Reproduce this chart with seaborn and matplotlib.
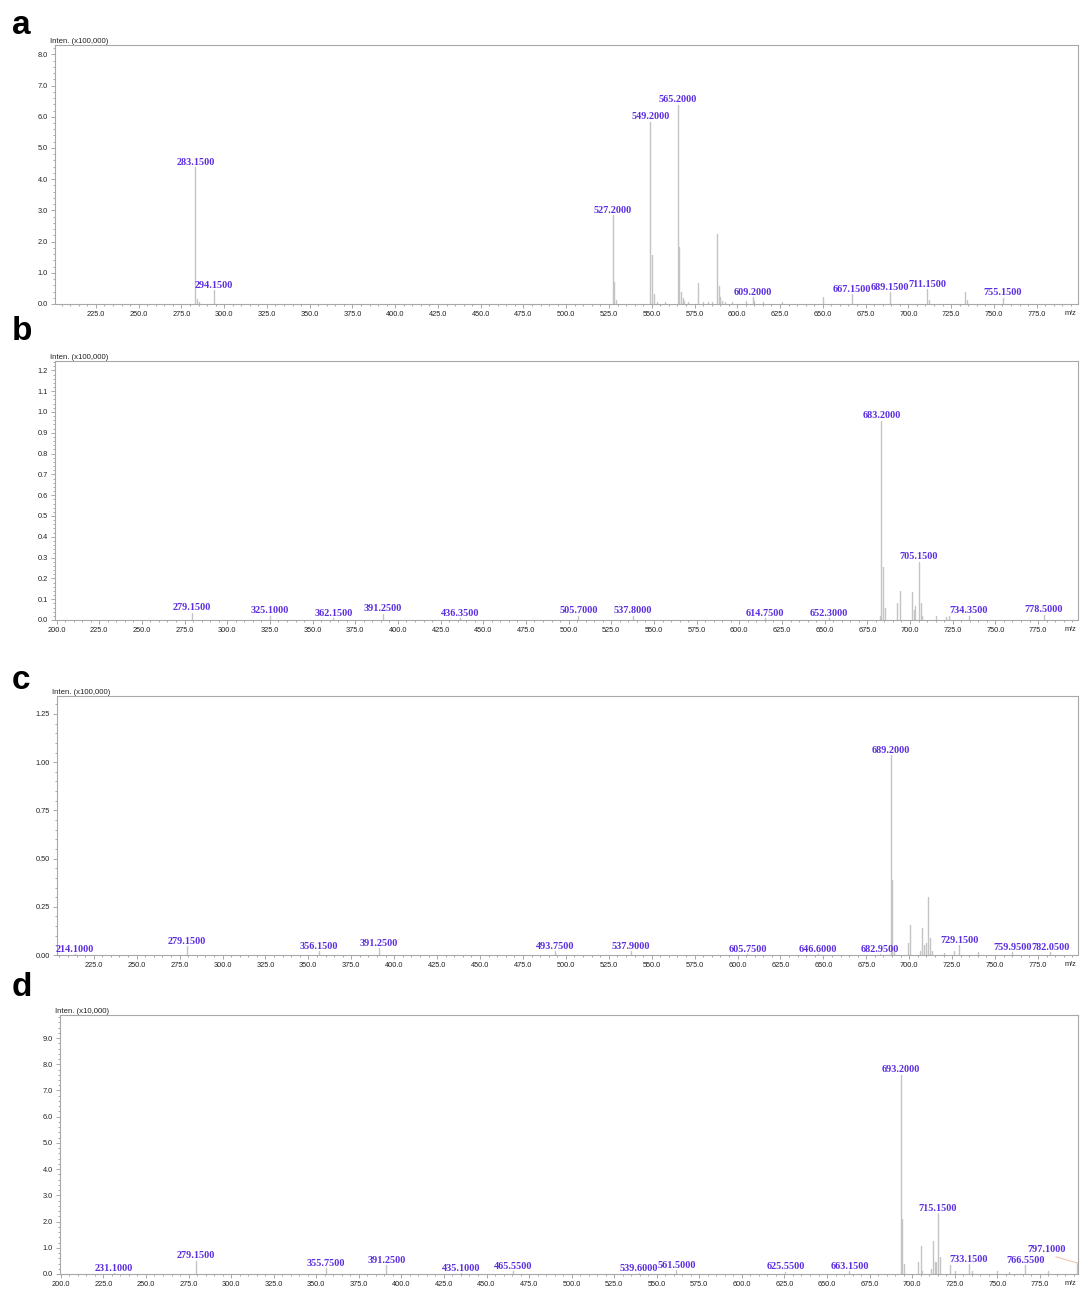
import matplotlib
matplotlib.use("Agg")
import matplotlib.pyplot as plt
from matplotlib import font_manager
from matplotlib.ticker import MultipleLocator, FormatStrFormatter
import pandas as pd
import seaborn as sns

# ---------------- spectrum a (intensity x100,000) ----------------
a_mz = [283.15, 284.15, 285.10, 294.15, 527.20, 528.20, 529.20, 549.20, 550.20,
        551.20, 553.00, 558.00, 565.20, 566.20, 567.20, 568.20, 569.00, 571.00,
        577.15, 580.00, 583.00, 585.00, 588.15, 589.15, 590.15, 591.00, 593.00,
        597.00, 605.00, 609.20, 610.00, 615.00, 626.00, 650.10, 667.15, 689.15,
        711.15, 712.15, 733.15, 734.15, 755.15]
a_int = [4.38, 0.15, 0.06, 0.45, 2.85, 0.72, 0.12, 5.84, 1.57,
         0.32, 0.06, 0.05, 6.38, 1.84, 0.38, 0.20, 0.10, 0.06,
         0.67, 0.05, 0.06, 0.06, 2.24, 0.58, 0.22, 0.10, 0.06,
         0.05, 0.10, 0.22, 0.10, 0.05, 0.06, 0.22, 0.32, 0.38,
         0.48, 0.12, 0.38, 0.12, 0.20]
a_labeled = [283.15, 294.15, 527.20, 549.20, 565.20, 609.20, 667.15, 689.15,
             711.15, 755.15]

# ---------------- spectrum b (intensity x100,000) ----------------
b_mz = [279.15, 325.10, 362.15, 391.25, 436.35, 505.70, 537.80, 614.75, 652.30,
        682.20, 683.20, 684.20, 685.20, 692.20, 694.20, 701.20, 702.20, 703.20,
        705.15, 706.15, 707.20, 715.00, 721.00, 723.00, 734.35, 778.50]
b_int = [0.035, 0.020, 0.010, 0.030, 0.010, 0.020, 0.020, 0.010, 0.010,
         0.020, 0.957, 0.255, 0.060, 0.080, 0.140, 0.135, 0.050, 0.065,
         0.280, 0.083, 0.020, 0.020, 0.015, 0.020, 0.020, 0.025]
b_labeled = [279.15, 325.10, 362.15, 391.25, 436.35, 505.70, 537.80, 614.75,
             652.30, 683.20, 705.15, 734.35, 778.50]

# ---------------- spectrum c (intensity x100,000) ----------------
c_mz = [214.10, 279.15, 356.15, 391.25, 493.75, 537.90, 605.75, 646.60, 682.95,
        689.20, 690.20, 691.20, 699.00, 700.70, 706.00, 707.40, 708.70, 709.70,
        711.20, 712.20, 713.00, 720.00, 726.00, 729.15, 740.00, 759.95, 782.05]
c_int = [0.005, 0.047, 0.020, 0.036, 0.020, 0.020, 0.005, 0.005, 0.005,
         1.037, 0.389, 0.030, 0.060, 0.156, 0.020, 0.138, 0.050, 0.064,
         0.302, 0.086, 0.020, 0.010, 0.020, 0.050, 0.015, 0.015, 0.015]
c_labeled = [214.10, 279.15, 356.15, 391.25, 493.75, 537.90, 605.75, 646.60,
             682.95, 689.20, 729.15, 759.95, 782.05]

# ---------------- spectrum d (intensity x10,000) ----------------
d_mz = [231.10, 279.15, 355.75, 391.25, 435.10, 465.55, 539.60, 561.50, 625.55,
        663.15, 693.20, 694.20, 695.20, 703.20, 705.20, 706.00, 711.00, 712.20,
        713.20, 714.20, 715.15, 716.20, 722.10, 725.00, 733.15, 735.00, 750.00,
        757.00, 766.55, 780.00, 797.10]
d_int = [0.04, 0.50, 0.23, 0.34, 0.04, 0.11, 0.04, 0.15, 0.08,
         0.11, 7.60, 2.10, 0.40, 0.47, 1.07, 0.10, 0.20, 1.27,
         0.45, 0.45, 2.32, 0.65, 0.34, 0.10, 0.38, 0.10, 0.10,
         0.08, 0.34, 0.10, 0.42]
d_labeled = [231.10, 279.15, 355.75, 391.25, 435.10, 465.55, 539.60, 561.50,
             625.55, 663.15, 693.20, 715.15, 733.15, 766.55]

# ---------------- styling ----------------
sns.set_theme(style="white")
available = {f.name for f in font_manager.fontManager.ttflist}
if "Liberation Sans Narrow" in available:
    tick_family, tick_size = ["Liberation Sans Narrow", "DejaVu Sans"], 6.0
else:
    tick_family, tick_size = ["Liberation Sans", "DejaVu Sans"], 5.3
plt.rcParams["font.family"] = tick_family

AXIS_GREY = "#a8a8a8"
PEAK_GREY = "#c4c4c4"
LABEL_BLUE = "#5b2ee0"
LEADER = "#f2b48f"

W, H = 1084, 1290
fig = plt.figure(figsize=(W / 100, H / 100), dpi=100)


def px_axes(left, top, right, bottom):
    return fig.add_axes([left / W, 1 - bottom / H, (right - left) / W, (bottom - top) / H])


def draw_spectrum(ax, mz, inten, labeled, xlim, ylim, ymajor, yminor, yfmt,
                  xticks_from, unit_text):
    rows = []
    for i, (m, v) in enumerate(zip(mz, inten)):
        rows.append({"mz": m, "inten": 0.0, "peak": i})
        rows.append({"mz": m, "inten": v, "peak": i})
    df = pd.DataFrame(rows)
    sns.lineplot(data=df, x="mz", y="inten", units="peak", estimator=None,
                 sort=False, color=PEAK_GREY, linewidth=1.0, ax=ax)

    for m, v in zip(mz, inten):
        if m in labeled:
            ax.annotate(f"{m:.4f}", xy=(m, v), xytext=(0, 0.3),
                        textcoords="offset points", ha="center", va="bottom",
                        fontsize=7.3, fontweight="bold", color=LABEL_BLUE,
                        family=["Liberation Serif", "DejaVu Serif"])

    ax.set_xlim(*xlim)
    ax.set_ylim(*ylim)
    ax.set_xlabel("")
    ax.set_ylabel("")
    ax.set_xticks([t for t in range(xticks_from, 800, 25) if xlim[0] <= t <= xlim[1]])
    ax.xaxis.set_major_formatter(FormatStrFormatter("%.1f"))
    ax.xaxis.set_minor_locator(MultipleLocator(5))
    ax.yaxis.set_major_locator(MultipleLocator(ymajor))
    ax.yaxis.set_minor_locator(MultipleLocator(yminor))
    ax.yaxis.set_major_formatter(FormatStrFormatter(yfmt))

    for s in ax.spines.values():
        s.set_visible(True)
        s.set_color(AXIS_GREY)
        s.set_linewidth(0.8)
    ax.tick_params(which="both", direction="out", color=AXIS_GREY, width=0.7,
                   labelsize=tick_size, labelcolor="#222222", pad=2,
                   bottom=True, left=True, top=False, right=False)
    ax.tick_params(which="major", length=3.0)
    ax.tick_params(which="minor", length=1.6)

    ax.text(-0.005, 0.999, unit_text, transform=ax.transAxes, ha="left",
            va="bottom", fontsize=tick_size + 0.3, color="#222222")
    ax.annotate("m/z", xy=(1, 0), xycoords="axes fraction", xytext=(-1, -4.4),
                textcoords="offset points", ha="right", va="top",
                fontsize=tick_size, color="#222222")


ax_a = px_axes(55, 45, 1078, 304)
draw_spectrum(ax_a, a_mz, a_int, a_labeled, (201.1, 799.2), (0, 8.3), 1.0, 0.2,
              "%.1f", 225, "Inten. (x100,000)")

ax_b = px_axes(55, 361, 1078, 620)
draw_spectrum(ax_b, b_mz, b_int, b_labeled, (199.1, 798.4), (0, 1.245), 0.1, 0.02,
              "%.1f", 200, "Inten. (x100,000)")

ax_c = px_axes(57, 696, 1078, 955)
draw_spectrum(ax_c, c_mz, c_int, c_labeled, (203.6, 798.3), (0, 1.343), 0.25, 0.05,
              "%.2f", 225, "Inten. (x100,000)")

ax_d = px_axes(60, 1015, 1078, 1274)
draw_spectrum(ax_d, d_mz, d_int, d_labeled, (199.5, 797.4), (0, 9.88), 1.0, 0.2,
              "%.1f", 200, "Inten. (x10,000)")
# the last peak sits against the frame, so its label is pulled left with a leader line
ax_d.annotate("797.1000", xy=(d_mz[-1], d_int[-1]), xytext=(778.7, 0.78),
              ha="center", va="bottom", fontsize=7.3, fontweight="bold",
              color=LABEL_BLUE, family=["Liberation Serif", "DejaVu Serif"],
              arrowprops=dict(arrowstyle="-", color=LEADER, lw=0.6,
                              shrinkA=0, shrinkB=0, relpos=(0.45, 0.0)))

# panel letters
for letter, base in zip("abcd", [34, 340, 689, 996]):
    fig.text(12 / W, 1 - base / H, letter, ha="left", va="baseline",
             fontsize=24, fontweight="bold", color="black",
             family=["Liberation Sans", "DejaVu Sans"])

fig.savefig("out.png", dpi=100, facecolor="white")
